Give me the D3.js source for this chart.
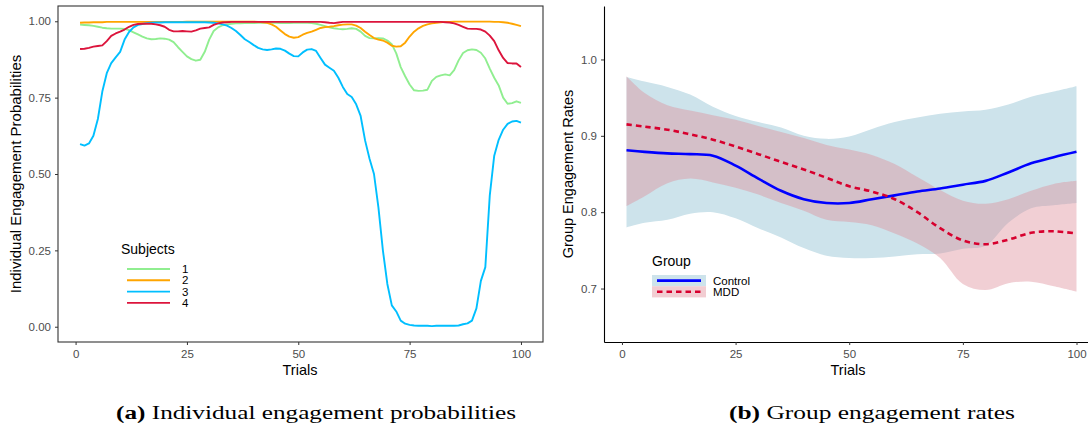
<!DOCTYPE html>
<html><head><meta charset="utf-8">
<script src="https://cdn.jsdelivr.net/npm/d3@7"></script>
<style>body{margin:0;background:#fff}svg{display:block}</style>
</head><body>
<svg width="1088" height="430"></svg>
<script>
// ---------- DATA ----------
const trials = d3.range(1, 101);
const subjectNames = ["1", "2", "3", "4"];
const subject1 = [
0.989,0.988,0.987,0.985,0.982,0.979,0.977,0.976,0.976,0.976,
0.975,0.971,0.964,0.957,0.950,0.944,0.941,0.942,0.944,0.943,
0.940,0.932,0.915,0.900,0.885,0.876,0.871,0.874,0.900,0.940,
0.968,0.980,0.987,0.990,0.992,0.993,0.993,0.994,0.994,0.994,
0.995,0.995,0.995,0.995,0.995,0.994,0.994,0.994,0.995,0.995,
0.995,0.995,0.994,0.992,0.988,0.984,0.980,0.977,0.975,0.974,
0.975,0.977,0.975,0.966,0.952,0.945,0.944,0.945,0.944,0.937,
0.925,0.895,0.850,0.820,0.793,0.774,0.772,0.773,0.776,0.805,
0.818,0.823,0.826,0.823,0.840,0.872,0.896,0.905,0.908,0.906,
0.897,0.878,0.845,0.815,0.790,0.750,0.730,0.732,0.738,0.733];
const subject2 = [
0.995,0.996,0.996,0.997,0.997,0.997,0.998,0.998,0.998,0.998,
0.998,0.998,0.998,0.998,0.998,0.998,0.998,0.998,0.998,0.998,
0.998,0.998,0.998,0.998,0.999,0.999,0.999,0.999,0.999,0.999,
0.999,0.999,0.999,0.999,0.999,0.999,0.999,0.999,0.999,0.999,
0.998,0.997,0.995,0.990,0.982,0.970,0.958,0.950,0.946,0.948,
0.956,0.962,0.966,0.972,0.978,0.981,0.982,0.984,0.987,0.989,
0.990,0.990,0.986,0.978,0.966,0.955,0.945,0.940,0.937,0.930,
0.920,0.917,0.918,0.930,0.950,0.966,0.977,0.985,0.990,0.993,
0.995,0.997,0.998,0.998,0.999,0.999,0.999,0.999,0.999,0.999,
0.999,0.999,0.999,0.998,0.998,0.997,0.995,0.992,0.988,0.984];
const subject3 = [
0.598,0.593,0.600,0.625,0.680,0.770,0.830,0.863,0.882,0.900,
0.940,0.965,0.980,0.988,0.991,0.994,0.995,0.996,0.996,0.997,
0.997,0.997,0.997,0.997,0.997,0.997,0.997,0.997,0.997,0.996,
0.995,0.993,0.990,0.986,0.978,0.968,0.955,0.941,0.932,0.922,
0.913,0.908,0.906,0.908,0.911,0.910,0.904,0.894,0.886,0.885,
0.898,0.907,0.909,0.903,0.880,0.858,0.848,0.838,0.815,0.785,
0.762,0.752,0.728,0.690,0.610,0.550,0.500,0.390,0.250,0.140,
0.070,0.050,0.020,0.010,0.006,0.004,0.003,0.003,0.003,0.002,
0.003,0.003,0.003,0.003,0.003,0.004,0.008,0.011,0.020,0.060,
0.150,0.195,0.430,0.560,0.612,0.645,0.664,0.672,0.674,0.668];
const subject4 = [
0.909,0.910,0.913,0.917,0.919,0.921,0.935,0.952,0.960,0.966,
0.973,0.982,0.988,0.991,0.992,0.992,0.992,0.990,0.987,0.982,
0.972,0.967,0.967,0.968,0.967,0.966,0.970,0.976,0.978,0.980,
0.988,0.993,0.996,0.997,0.998,0.998,0.998,0.998,0.998,0.998,
0.998,0.998,0.998,0.998,0.998,0.998,0.998,0.998,0.998,0.998,
0.998,0.998,0.998,0.998,0.998,0.997,0.995,0.994,0.996,0.998,
0.998,0.998,0.998,0.998,0.998,0.998,0.998,0.998,0.998,0.998,
0.998,0.998,0.998,0.998,0.998,0.998,0.998,0.998,0.998,0.998,
0.998,0.998,0.997,0.996,0.993,0.988,0.982,0.976,0.975,0.975,
0.973,0.966,0.953,0.935,0.905,0.880,0.863,0.862,0.862,0.850];
const subjectColors = ["#90EE90", "#FFA500", "#00BFFF", "#DC143C"];

const groupNames = ["Control", "MDD"];
const smoothTrials = [1,5,10,15,20,25,30,35,40,45,50,55,60,65,70,75,80,85,90,95,100];
const controlMean  = [0.881,0.879,0.877,0.876,0.874,0.861,0.844,0.828,0.817,0.812,0.812,0.817,0.822,0.827,0.831,0.836,0.841,0.852,0.864,0.872,0.879];
const controlUpper = [0.977,0.971,0.964,0.954,0.938,0.926,0.918,0.911,0.900,0.896,0.899,0.909,0.918,0.924,0.929,0.932,0.934,0.941,0.951,0.958,0.965];
const controlLower = [0.780,0.786,0.790,0.798,0.800,0.792,0.779,0.767,0.753,0.743,0.740,0.740,0.742,0.745,0.746,0.752,0.756,0.786,0.805,0.809,0.812];
const mddMean      = [0.915,0.912,0.908,0.902,0.895,0.886,0.876,0.866,0.856,0.845,0.834,0.827,0.817,0.800,0.779,0.763,0.758,0.764,0.773,0.775,0.772];
const mddUpper     = [0.978,0.956,0.940,0.933,0.927,0.921,0.913,0.905,0.897,0.888,0.882,0.875,0.863,0.846,0.829,0.815,0.811,0.817,0.828,0.837,0.841];
const mddLower     = [0.808,0.821,0.838,0.844,0.839,0.832,0.823,0.812,0.802,0.790,0.787,0.783,0.772,0.759,0.740,0.706,0.698,0.707,0.709,0.703,0.696];

const leftXTicks = [0, 25, 50, 75, 100];
const leftYTicks = [0, 0.25, 0.5, 0.75, 1];
const rightXTicks = [0, 25, 50, 75, 100];
const rightYTicks = [0.7, 0.8, 0.9, 1.0];
const captionA = ["(a)", " Individual engagement probabilities"];
const captionB = ["(b)", " Group engagement rates"];

// ---------- DRAW ----------
const svg = d3.select("svg");
const SANS = "'Liberation Sans', Arial, Helvetica, sans-serif";
const SERIF = "'Liberation Serif', 'DejaVu Serif', serif";

function styleAxis(g) {
  g.selectAll(".tick line").attr("stroke", "#333").attr("stroke-width", 1);
  g.selectAll(".tick text").attr("font-family", SANS).attr("font-size", 11.5).attr("fill", "#4d4d4d");
}

// ----- Left panel -----
const xL = d3.scaleLinear().domain([-3.95, 104.95]).range([58, 543]);
const yL = d3.scaleLinear().domain([-0.05, 1.05]).range([342, 6]);

const gL = svg.append("g");
const series = [subject1, subject2, subject3, subject4];
const lineL = d3.line().x((d, i) => xL(trials[i])).y(d => yL(d));
series.forEach((s, k) => {
  gL.append("path").attr("d", lineL(s)).attr("fill", "none")
    .attr("stroke", subjectColors[k]).attr("stroke-width", 1.9)
    .attr("stroke-linejoin", "round");
});
gL.append("rect").attr("x", 58).attr("y", 6).attr("width", 485).attr("height", 336)
  .attr("fill", "none").attr("stroke", "#333").attr("stroke-width", 1.1);

const axXL = gL.append("g").attr("transform", "translate(0,342)")
  .call(d3.axisBottom(xL).tickValues(leftXTicks).tickSize(3).tickPadding(5).tickFormat(d3.format("d")));
axXL.select(".domain").remove();
styleAxis(axXL);
const axYL = gL.append("g").attr("transform", "translate(58,0)")
  .call(d3.axisLeft(yL).tickValues(leftYTicks).tickSize(3).tickPadding(4).tickFormat(d3.format(".2f")));
axYL.select(".domain").remove();
styleAxis(axYL);

gL.append("text").attr("x", 300).attr("y", 375).attr("text-anchor", "middle")
  .attr("font-family", SANS).attr("font-size", 14.5).attr("fill", "#000").text("Trials");
gL.append("text").attr("transform", "translate(21,174) rotate(-90)").attr("text-anchor", "middle")
  .attr("font-family", SANS).attr("font-size", 15).attr("fill", "#000")
  .text("Individual Engagement Probabilities");

// legend left
const legL = gL.append("g");
legL.append("text").attr("x", 121).attr("y", 254).attr("font-family", SANS)
  .attr("font-size", 14).attr("fill", "#000").text("Subjects");
subjectNames.forEach((n, k) => {
  const yy = 269 + k * 11.3;
  legL.append("line").attr("x1", 127).attr("x2", 170).attr("y1", yy).attr("y2", yy)
    .attr("stroke", subjectColors[k]).attr("stroke-width", 1.9);
  legL.append("text").attr("x", 182).attr("y", yy + 4).attr("font-family", SANS)
    .attr("font-size", 11.5).attr("fill", "#000").text(n);
});

// ----- Right panel -----
const xR = d3.scaleLinear().domain([-3.95, 104.95]).range([604, 1099]);
const yR = d3.scaleLinear().domain([0.63, 1.07]).range([342, 6]);
const gR = svg.append("g");

const controlColor = "#0000FF", mddColor = "#D7002E";
const controlFill = "rgb(205,227,235)", mddFill = "rgba(222,140,152,0.42)";
const curveR = d3.curveCatmullRom.alpha(0.5);

const area = (lo, hi) => d3.area().curve(curveR)
  .x((d, i) => xR(smoothTrials[i])).y0((d, i) => yR(lo[i])).y1((d, i) => yR(hi[i]))(lo);
gR.append("path").attr("d", area(controlLower, controlUpper)).attr("fill", controlFill);
gR.append("path").attr("d", area(mddLower, mddUpper)).attr("fill", mddFill);

const lineR = d3.line().curve(curveR).x((d, i) => xR(smoothTrials[i])).y(d => yR(d));
gR.append("path").attr("d", lineR(controlMean)).attr("fill", "none")
  .attr("stroke", controlColor).attr("stroke-width", 2.6);
gR.append("path").attr("d", lineR(mddMean)).attr("fill", "none")
  .attr("stroke", mddColor).attr("stroke-width", 2.6).attr("stroke-dasharray", "5.5,4");

const axXR = gR.append("g").attr("transform", "translate(0,342)")
  .call(d3.axisBottom(xR).tickValues(rightXTicks).tickSize(3).tickSizeOuter(0).tickPadding(5).tickFormat(d3.format("d")));
axXR.select(".domain").attr("stroke", "#000").attr("stroke-width", 1.1);
styleAxis(axXR);
const axYR = gR.append("g").attr("transform", "translate(604,0)")
  .call(d3.axisLeft(yR).tickValues(rightYTicks).tickSize(3).tickSizeOuter(0).tickPadding(4).tickFormat(d3.format(".1f")));
axYR.select(".domain").attr("stroke", "#000").attr("stroke-width", 1.1);
styleAxis(axYR);

gR.append("text").attr("x", 848).attr("y", 375).attr("text-anchor", "middle")
  .attr("font-family", SANS).attr("font-size", 14.5).attr("fill", "#000").text("Trials");
gR.append("text").attr("transform", "translate(573,174) rotate(-90)").attr("text-anchor", "middle")
  .attr("font-family", SANS).attr("font-size", 14.5).attr("fill", "#000").text("Group Engagement Rates");

// legend right
const legR = gR.append("g");
legR.append("text").attr("x", 652).attr("y", 266).attr("font-family", SANS)
  .attr("font-size", 14).attr("fill", "#000").text("Group");
const keyFills = [controlFill, "rgb(242,205,210)"];
const keyColors = [controlColor, mddColor];
groupNames.forEach((n, k) => {
  const y0 = 275 + k * 11.2;
  legR.append("rect").attr("x", 652).attr("y", y0).attr("width", 54).attr("height", 11.2)
    .attr("fill", keyFills[k]);
  legR.append("line").attr("x1", 657).attr("x2", 701).attr("y1", y0 + 5.6).attr("y2", y0 + 5.6)
    .attr("stroke", keyColors[k]).attr("stroke-width", 2.6)
    .attr("stroke-dasharray", k === 1 ? "5.5,4" : null);
  legR.append("text").attr("x", 713).attr("y", y0 + 9.8).attr("font-family", SANS)
    .attr("font-size", 11.5).attr("fill", "#000").text(n);
});

// ----- Captions -----
function caption(parts, x, w) {
  const t = svg.append("text").attr("x", x).attr("y", 419).attr("font-family", SERIF)
    .attr("font-size", 18).attr("fill", "#000")
    .attr("textLength", w).attr("lengthAdjust", "spacingAndGlyphs");
  t.append("tspan").attr("font-weight", "bold").text(parts[0]);
  t.append("tspan").text(parts[1]);
}
caption(captionA, 116, 400);
caption(captionB, 729, 286);
</script>
</body></html>
